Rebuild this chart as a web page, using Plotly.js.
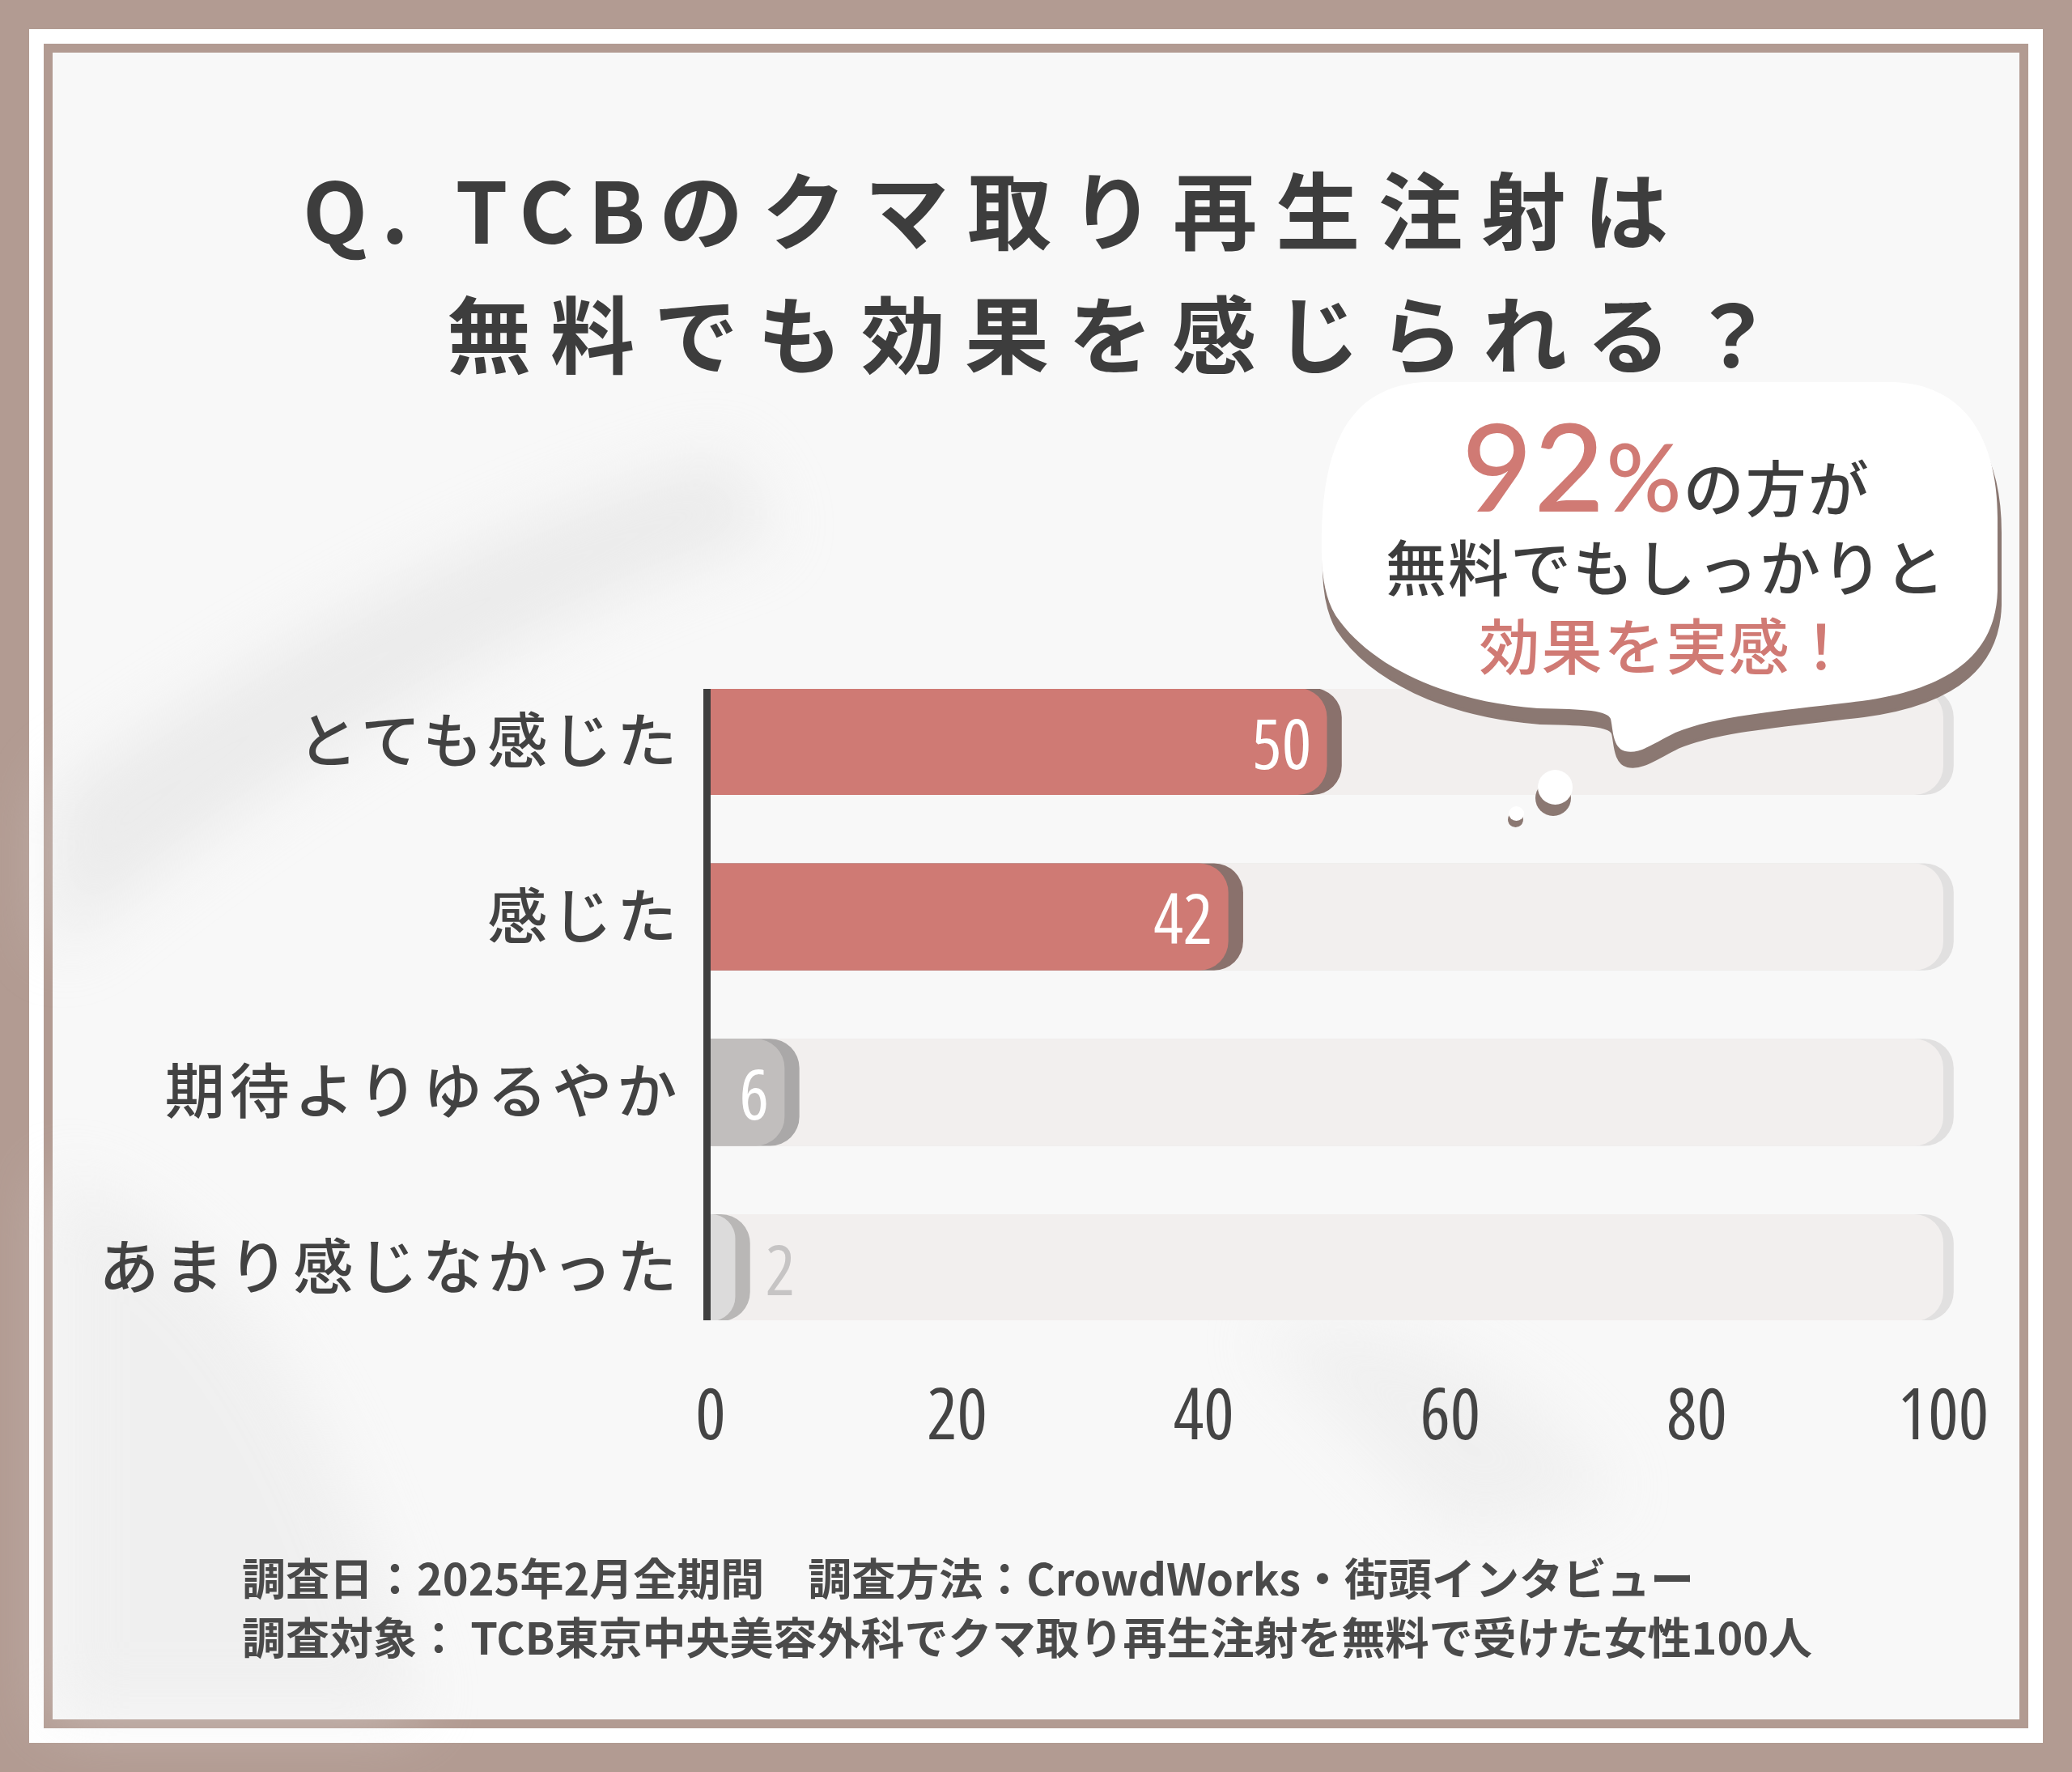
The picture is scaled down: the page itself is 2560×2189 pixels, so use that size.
<!DOCTYPE html>
<html>
<head>
<meta charset="utf-8">
<script src="https://cdn.plot.ly/plotly-3.0.1.min.js"></script>
<style>
  html, body { margin: 0; padding: 0; background: #b29b92; }
  #chart { width: 2560px; height: 2189px; }
  .annotation[data-index="0"] text { letter-spacing: 23px; }
  .annotation[data-index="1"] text { letter-spacing: 24px; }
  .annotation[data-index="2"] text { letter-spacing: 2px; }
  .ytick text { letter-spacing: 6px; }
  .xtick text { font-stretch: 75%; }
  text.bartext { font-stretch: 75%; }
  .shapelayer path[data-index="3"], .shapelayer path[data-index="4"], .shapelayer path[data-index="5"] { filter: blur(40px); }
</style>
</head>
<body>
<div id="chart"></div>
<script>
// ---------- data ----------
const categories = ['とても感じた', '感じた', '期待よりゆるやか', 'あまり感じなかった'];
const values = [50, 42, 6, 2];
const trackMax = [100, 100, 100, 100];
const xTickVals = [0, 20, 40, 60, 80, 100];
const xTickText = ['0', '20', '40', '60', '80', '100'];

// ---------- styles ----------
const W = 2560, H = 2189;
const JP = '"Noto Sans CJK JP", "Noto Sans", sans-serif';
const NUM = '"Open Sans", "DejaVu Sans", sans-serif';
const BROWN = '#b29b92';
const PINK = '#cf7a74';
const DARK = '#424242';
const barColors = [PINK, PINK, '#c1bebd', '#dcdbdb'];
const barShadowColors = ['#8a716c', '#8a716c', '#aaa8a8', '#b9b7b6'];
const SHADOW_SHIFT = 1.2;        // offset of the bar drop shadow (axis units)
const INSIDE_MIN = 5;            // values below this get their label outside
const RADIUS = 36;

const px = x => x / W;
const py = y => 1 - y / H;
function toPaper(d) {
  let i = 0;
  return d.replace(/-?\d+(\.\d+)?/g, m => (i++ % 2 === 0) ? (m / W).toFixed(5) : (1 - m / H).toFixed(5));
}
function shiftPath(d, dx, dy) {
  let i = 0;
  return d.replace(/-?\d+(\.\d+)?/g, m => (i++ % 2 === 0) ? String(+m + dx) : String(+m + dy));
}

const common = { type: 'bar', orientation: 'h', y: categories, hoverinfo: 'skip', cliponaxis: false };

const traces = [
  Object.assign({}, common, {
    yaxis: 'y',
    x: trackMax.map(v => v + SHADOW_SHIFT * 0.7),
    marker: { color: '#e1e0e0', cornerradius: RADIUS }, textposition: 'none'
  }),
  Object.assign({}, common, {
    yaxis: 'y2',
    x: trackMax,
    marker: { color: '#f2efee', cornerradius: RADIUS }, textposition: 'none'
  }),
  Object.assign({}, common, {
    yaxis: 'y3',
    x: values.map(v => v + SHADOW_SHIFT),
    marker: { color: barShadowColors, cornerradius: RADIUS },
    text: values.map(v => v < INSIDE_MIN ? ' ' + v : ''),
    textposition: 'outside',
    textfont: { family: NUM, size: 86, color: '#c6c4c4' },
    constraintext: 'none'
  }),
  Object.assign({}, common, {
    yaxis: 'y4',
    x: values,
    marker: { color: barColors, cornerradius: RADIUS },
    text: values.map(v => v >= INSIDE_MIN ? String(v) : ''),
    textposition: 'inside',
    insidetextanchor: 'end',
    textangle: 0,
    textfont: { family: NUM, size: 86, color: '#ffffff' },
    constraintext: 'none'
  })
];

// speech bubble outline (pixel coordinates, converted to paper)
const bubble = 'M 1633 690 C 1630 560 1660 478 1760 472 L 2340 472 C 2440 476 2468 560 2468 640 ' +
  'L 2468 730 C 2466 800 2420 850 2300 866 C 2200 878 2120 884 2070 905 ' +
  'C 2040 920 2025 932 2008 928 C 1992 924 1993 900 1990 888 C 1986 878 1960 876 1900 875 ' +
  'C 1780 866 1690 820 1650 760 C 1638 740 1634 715 1633 690 Z';

const shapes = [
  { type: 'rect', layer: 'below', xref: 'paper', yref: 'paper', x0: px(36), x1: px(2524), y0: py(2153), y1: py(36),
    fillcolor: '#ffffff', line: { width: 0 } },
  { type: 'rect', layer: 'below', xref: 'paper', yref: 'paper', x0: px(65), x1: px(2495), y0: py(2124), y1: py(65),
    fillcolor: '#f8f8f8', line: { width: 0 } },
  { type: 'rect', layer: 'below', xref: 'paper', yref: 'paper', x0: px(59.5), x1: px(2500.5), y0: py(2129.5), y1: py(59.5),
    fillcolor: 'rgba(0,0,0,0)', line: { color: BROWN, width: 11 } },
  { type: 'path', layer: 'below', xref: 'paper', yref: 'paper',
    path: toPaper('M 65 980 C 300 820 600 640 900 560 L 960 660 C 700 740 380 920 65 1180 Z'),
    fillcolor: '#dedede', opacity: 0.5, line: { width: 0 } },
  { type: 'path', layer: 'below', xref: 'paper', yref: 'paper',
    path: toPaper('M 65 1450 C 250 1500 420 1700 520 2124 L 65 2124 Z'),
    fillcolor: '#e6e6e6', opacity: 0.45, line: { width: 0 } },
  { type: 'path', layer: 'below', xref: 'paper', yref: 'paper',
    path: toPaper('M 1550 1650 C 1700 1600 1900 1700 2000 1850 L 1800 1900 C 1700 1800 1620 1720 1550 1650 Z'),
    fillcolor: '#e6e6e6', opacity: 0.45, line: { width: 0 } },
  { type: 'path', layer: 'above', xref: 'paper', yref: 'paper', path: toPaper(shiftPath(bubble, 3, 18)),
    fillcolor: '#8b7872', line: { color: '#8b7872', width: 4 } },
  { type: 'path', layer: 'above', xref: 'paper', yref: 'paper', path: toPaper(bubble),
    fillcolor: '#ffffff', line: { width: 0 } },
  { type: 'circle', layer: 'above', xref: 'paper', yref: 'paper', x0: px(1897), x1: px(1941), y0: py(1008), y1: py(964),
    fillcolor: '#8b7872', line: { width: 0 } },
  { type: 'circle', layer: 'above', xref: 'paper', yref: 'paper', x0: px(1900), x1: px(1943), y0: py(994), y1: py(951),
    fillcolor: '#ffffff', line: { width: 0 } },
  { type: 'circle', layer: 'above', xref: 'paper', yref: 'paper', x0: px(1863), x1: px(1882), y0: py(1022), y1: py(1003),
    fillcolor: '#8b7872', line: { width: 0 } },
  { type: 'circle', layer: 'above', xref: 'paper', yref: 'paper', x0: px(1864), x1: px(1883), y0: py(1014), y1: py(996),
    fillcolor: '#ffffff', line: { width: 0 } }
];

const annBase = { xref: 'paper', yref: 'paper', showarrow: false };
const bubbleText =
  '<span style="font-family:Lato, \'Open Sans\', sans-serif;font-size:150px;color:#d07a74">92</span>' +
  '<span style="font-family:Lato, \'Open Sans\', sans-serif;font-size:116px;color:#d07a74">%</span>の方が' +
  '<br>無料でもしっかりと' +
  '<br><span style="color:#d07a74">効果を実感！</span>';
const annotations = [
  Object.assign({}, annBase, { text: '<span style="letter-spacing:17px">Q. TCB</span>のクマ取り再生注射は', x: px(372), y: py(256), xanchor: 'left', yanchor: 'middle', align: 'left',
    font: { family: JP, size: 104, weight: 700, color: '#3d3d3d' } }),
  Object.assign({}, annBase, { text: '無料でも効果を感じられる？', x: px(550), y: py(408), xanchor: 'left', yanchor: 'middle', align: 'left',
    font: { family: JP, size: 104, weight: 700, color: '#3d3d3d' } }),
  Object.assign({}, annBase, { text: bubbleText, x: px(2058), y: py(851), xanchor: 'center', yanchor: 'bottom', align: 'center',
    font: { family: JP, size: 75, weight: 500, color: '#3d3d3d' } }),
  Object.assign({}, annBase, { text: '調査日：2025年2月全期間　調査方法：CrowdWorks・街頭インタビュー', x: px(297), y: py(1947),
    xanchor: 'left', yanchor: 'middle', align: 'left', font: { family: JP, size: 54, weight: 700, color: '#4a4a4a' } }),
  Object.assign({}, annBase, { text: '調査対象： TCB東京中央美容外科でクマ取り再生注射を無料で受けた女性100人', x: px(297), y: py(2020),
    xanchor: 'left', yanchor: 'middle', align: 'left', font: { family: JP, size: 54, weight: 700, color: '#4a4a4a' } })
];

const PX_PER_UNIT = (2401 - 878) / 100;
const X_MAX = 103;
const Y_RANGE = [3.3, -0.3];

function overlayY() {
  return { overlaying: 'y', type: 'category', categoryorder: 'array', categoryarray: categories,
    range: Y_RANGE, visible: false, fixedrange: true };
}

const layout = {
  width: W, height: H,
  margin: { l: 0, r: 0, t: 0, b: 0, pad: 0 },
  paper_bgcolor: BROWN,
  plot_bgcolor: 'rgba(0,0,0,0)',
  barmode: 'group',
  bargap: 0.39,
  showlegend: false,
  xaxis: {
    domain: [px(878), px(878 + X_MAX * PX_PER_UNIT)],
    range: [0, X_MAX],
    tickvals: xTickVals, ticktext: xTickText,
    showgrid: false, zeroline: false, showline: false, ticks: '',
    ticklabelstandoff: 58,
    tickfont: { family: NUM, size: 88, color: '#444444' },
    fixedrange: true
  },
  yaxis: {
    domain: [py(1631), py(851)],
    type: 'category', categoryorder: 'array', categoryarray: categories,
    range: Y_RANGE,
    showline: true, linecolor: '#3f3f3f', linewidth: 9,
    showgrid: false, zeroline: false, ticks: '',
    ticklabelstandoff: 12,
    tickfont: { family: JP, size: 74, weight: 500, color: DARK },
    fixedrange: true
  },
  yaxis2: overlayY(),
  yaxis3: overlayY(),
  yaxis4: overlayY(),
  shapes: shapes,
  annotations: annotations
};

Plotly.newPlot('chart', traces, layout, { displayModeBar: false, staticPlot: true });
</script>
</body>
</html>
